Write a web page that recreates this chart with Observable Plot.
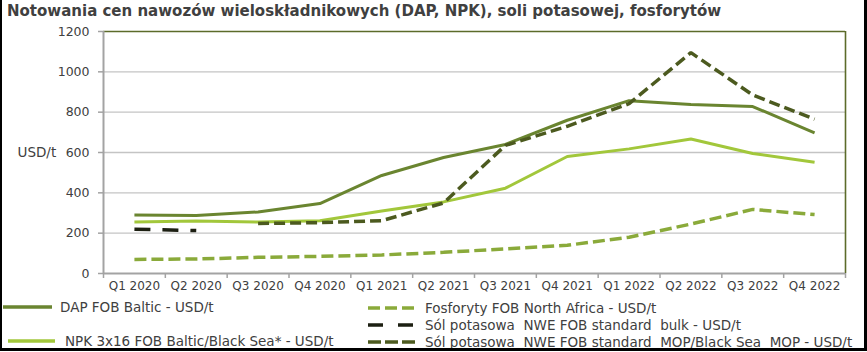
<!DOCTYPE html>
<html>
<head>
<meta charset="utf-8">
<script src="https://cdn.jsdelivr.net/npm/d3@7"></script>
<script src="https://cdn.jsdelivr.net/npm/@observablehq/plot@0.6"></script>
<style>
  html, body { margin: 0; padding: 0; background: #fff; }
  #frame { position: absolute; left: 0; top: 0; width: 867px; height: 351px; box-sizing: border-box;
           border-left: 2px solid #000; border-right: 3px solid #000; border-bottom: 3px solid #000; }
  #title { position: absolute; left: 7px; top: 2px; font: bold 15px "DejaVu Sans", sans-serif; color: #404040; white-space: nowrap; line-height: 18px; }
  #chart { position: absolute; left: 0; top: 22px; }
  .leg { position: absolute; font: 13.5px "DejaVu Sans", sans-serif; color: #404040; white-space: pre; line-height: 14px; }
  .leg svg { position: absolute; }
</style>
</head>
<body>
<div id="title">Notowania cen nawozów wieloskładnikowych (DAP, NPK), soli potasowej, fosforytów</div>
<div id="chart"></div>
<div id="legend"></div>
<div id="frame"></div>
<script>
const quarters = ["Q1 2020","Q2 2020","Q3 2020","Q4 2020","Q1 2021","Q2 2021","Q3 2021","Q4 2021","Q1 2022","Q2 2022","Q3 2022","Q4 2022"];
const dap  = [290, 288, 305, 347, 486, 575, 640, 760, 857, 838, 828, 697];
const npk  = [255, 260, 255, 262, 310, 355, 423, 580, 618, 667, 595, 552];
const fosf = [70, 72, 80, 85, 92, 105, 122, 140, 180, 245, 318, 292];
const bulk = [220, 213, null, null, null, null, null, null, null, null, null, null];
const mop  = [null, null, 248, 252, 262, 350, 635, 730, 842, 1095, 885, 765];
const yTicks = [0, 200, 400, 600, 800, 1000, 1200];
const gridTicks = [200, 400, 600, 800, 1000];

const series = [
  {name: "DAP FOB Baltic - USD/t", values: dap, color: "#6a8530", width: 3, dash: null},
  {name: "NPK 3x16 FOB Baltic/Black Sea* - USD/t", values: npk, color: "#a2c73b", width: 3, dash: null},
  {name: "Fosforyty FOB North Africa - USD/t", values: fosf, color: "#8aaa3a", width: 3.5, dash: "12,5"},
  {name: "Sól potasowa  NWE FOB standard  bulk - USD/t", values: bulk, color: "#1c1f12", width: 3.5, dash: "16,12"},
  {name: "Sól potasowa  NWE FOB standard  MOP/Black Sea  MOP - USD/t", values: mop, color: "#4c5a1f", width: 3.5, dash: "11,5"}
];

const rows = s => quarters.map((q, i) => ({i, q, v: s.values[i]}));
const idx = quarters.map((q, i) => i);
const bounds = quarters.map((q, i) => i - 0.5).concat([quarters.length - 0.5]);

const chart = Plot.plot({
  width: 867,
  height: 280,
  marginLeft: 103,
  marginRight: 22,
  marginTop: 9,
  marginBottom: 29,
  style: {fontFamily: "DejaVu Sans, sans-serif", fontSize: "12px", color: "#404040", background: "transparent"},
  x: {type: "linear", domain: [-0.5, quarters.length - 0.5], axis: null},
  y: {domain: [0, 1200], axis: null},
  marks: [
    Plot.ruleY(gridTicks, {stroke: "#c4c4c4", strokeWidth: 1.3}),
    Plot.ruleY([yTicks[yTicks.length - 1]], {stroke: "#5c6b2a", strokeWidth: 1.6}),
    Plot.ruleX([bounds[bounds.length - 1]], {stroke: "#5c6b2a", strokeWidth: 1.6}),
    Plot.axisY({ticks: yTicks, tickSize: 5, tickFormat: () => "", label: null, stroke: "#a3a3a3", strokeWidth: 1.5}),
    Plot.axisY({ticks: yTicks, tickSize: 0, tickPadding: 14, tickFormat: d => String(d), label: null, fill: "#404040", fontSize: 12.5}),
    Plot.axisX({ticks: bounds, tickSize: 5, tickFormat: () => "", label: null, stroke: "#a3a3a3", strokeWidth: 1.5}),
    Plot.axisX({ticks: idx, tickSize: 0, tickPadding: 8, tickFormat: i => quarters[i], label: null, fill: "#404040", fontSize: 12}),
    Plot.ruleX([bounds[0]], {stroke: "#a3a3a3", strokeWidth: 2}),
    Plot.ruleY([yTicks[0]], {stroke: "#a3a3a3", strokeWidth: 2}),
    Plot.text(["USD/t"], {frameAnchor: "left", y: [600], text: d => d, dx: -86, textAnchor: "start", fill: "#404040", fontSize: 13.5}),
    ...series.map(s => Plot.line(rows(s), {
      x: "i", y: "v", stroke: s.color, strokeWidth: s.width,
      strokeDasharray: s.dash, strokeLinejoin: "miter", strokeLinecap: "butt"
    }))
  ]
});
document.getElementById("chart").appendChild(chart);

// legend (HTML, below the chart)
const legendPos = [
  {s: 0, lx: 3, lw: 49, tx: 60, y: 307},
  {s: 1, lx: 8, lw: 47, tx: 65, y: 341},
  {s: 2, lx: 368, lw: 47, tx: 425, y: 308},
  {s: 3, lx: 368, lw: 45, tx: 425, y: 325},
  {s: 4, lx: 368, lw: 47, tx: 425, y: 342}
];
const legendDash = [null, null, "12,5", "15,15", "13,4"];
const legend = document.getElementById("legend");
legendPos.forEach(p => {
  const s = series[p.s];
  const el = document.createElement("div");
  el.className = "leg";
  el.style.left = "0px";
  el.style.top = (p.y - 7) + "px";
  el.style.width = "867px";
  el.style.height = "14px";
  const ns = "http://www.w3.org/2000/svg";
  const svg = document.createElementNS(ns, "svg");
  svg.setAttribute("width", p.lw);
  svg.setAttribute("height", 14);
  svg.style.left = p.lx + "px";
  svg.style.top = "0px";
  const ln = document.createElementNS(ns, "line");
  ln.setAttribute("x1", 0); ln.setAttribute("x2", p.lw);
  ln.setAttribute("y1", 7); ln.setAttribute("y2", 7);
  ln.setAttribute("stroke", s.color);
  ln.setAttribute("stroke-width", 3.5);
  if (legendDash[p.s]) ln.setAttribute("stroke-dasharray", legendDash[p.s]);
  svg.appendChild(ln);
  el.appendChild(svg);
  const t = document.createElement("span");
  t.style.position = "absolute";
  t.style.left = p.tx + "px";
  t.style.top = "0px";
  t.textContent = s.name;
  el.appendChild(t);
  legend.appendChild(el);
});
</script>
</body>
</html>
